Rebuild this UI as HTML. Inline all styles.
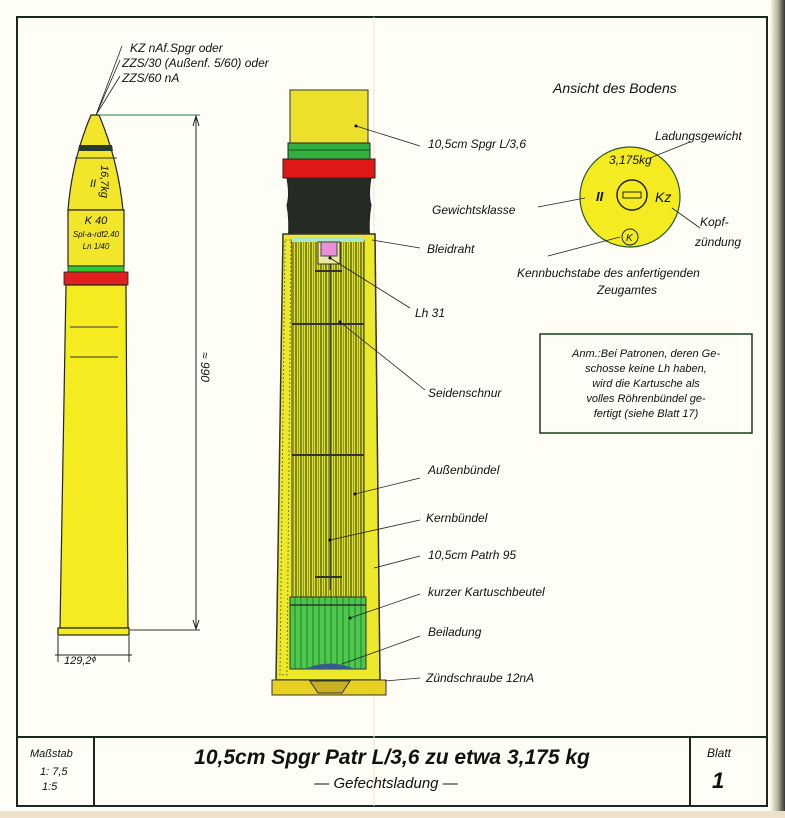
<!DOCTYPE html>
<html><head><meta charset="utf-8"><style>
body{margin:0;background:#fff;}
svg{display:block;}
text{font-family:"Liberation Sans",sans-serif;font-style:italic;fill:#111;}
</style></head><body>
<svg width="785" height="818" viewBox="0 0 785 818" xmlns="http://www.w3.org/2000/svg">
<defs>
<linearGradient id="edge" x1="0" x2="1"><stop offset="0" stop-color="#fdfde8"/><stop offset="0.5" stop-color="#b8b8a0"/><stop offset="1" stop-color="#333"/></linearGradient>
<pattern id="str" width="5" height="10" patternUnits="userSpaceOnUse"><rect width="5" height="10" fill="#e0e028"/><line x1="1" y1="0" x2="1" y2="10" stroke="#4a5a10" stroke-width="1.3"/><line x1="3.5" y1="0" x2="3.5" y2="10" stroke="#7a8a20" stroke-width="0.8"/></pattern>
<pattern id="gstr" width="6" height="10" patternUnits="userSpaceOnUse"><rect width="6" height="10" fill="#4cc84c"/><line x1="1" y1="0" x2="1" y2="10" stroke="#2a7a2a" stroke-width="1"/></pattern>
</defs>
<rect width="785" height="818" fill="#fefef6"/>
<rect x="770" y="0" width="15" height="818" fill="url(#edge)"/>
<rect x="0" y="811" width="785" height="7" fill="#efe2cc"/>
<!-- frame -->
<rect x="17" y="17" width="750" height="789" fill="none" stroke="#1a2a1a" stroke-width="2"/>
<line x1="17" y1="737" x2="767" y2="737" stroke="#1a2a1a" stroke-width="2"/>
<line x1="94" y1="737" x2="94" y2="806" stroke="#1a2a1a" stroke-width="2"/>
<line x1="690" y1="737" x2="690" y2="806" stroke="#1a2a1a" stroke-width="2"/>
<line x1="374" y1="17" x2="374" y2="806" stroke="#ece6d2" stroke-width="1"/>
<text x="30" y="757" font-size="11">Maßstab</text>
<text x="40" y="775" font-size="11">1: 7,5</text>
<text x="42" y="790" font-size="11">1:5</text>
<text x="392" y="764" font-size="21" font-weight="bold" text-anchor="middle">10,5cm Spgr Patr L/3,6 zu etwa 3,175 kg</text>
<text x="386" y="788" font-size="15" text-anchor="middle">— Gefechtsladung —</text>
<text x="707" y="757" font-size="12">Blatt</text>
<text x="712" y="788" font-size="22" font-weight="bold">1</text>

<!-- left external view -->
<path d="M91,115 L99,115 Q118,160 123,210 L68,210 Q72,160 91,115 Z" fill="#f2e62a" stroke="#222" stroke-width="1.2"/>
<path d="M79,145 L112,145 L113,151 L78,151 Z" fill="#2a3a2a"/>
<line x1="75" y1="158" x2="117" y2="158" stroke="#333"/>
<rect x="68" y="210" width="56" height="56" fill="#f2e62a" stroke="#222" stroke-width="1.2"/>
<rect x="68" y="266" width="56" height="6" fill="#2ec82e" stroke="#222" stroke-width="0.8"/>
<rect x="64" y="272" width="64" height="13" fill="#e02020" stroke="#222" stroke-width="0.8"/>
<path d="M66,285 L126,285 L128,628 L60,628 Z" fill="#f4ec20" stroke="#222" stroke-width="1.2"/>
<rect x="58" y="628" width="71" height="7" fill="#f4ec20" stroke="#222" stroke-width="1.2"/>
<line x1="70" y1="327" x2="118" y2="327" stroke="#333"/>
<line x1="70" y1="357" x2="118" y2="357" stroke="#333"/>
<text x="90" y="187" font-size="11" font-style="normal" font-family="Liberation Serif">II</text>
<text transform="translate(101,165) rotate(90)" font-size="11">16,7kg</text>
<text x="96" y="224" font-size="11" text-anchor="middle">K 40</text>
<text x="96" y="237" font-size="8" text-anchor="middle">Spl-a-rdf2.40</text>
<text x="96" y="249" font-size="8" text-anchor="middle">Ln 1/40</text>
<!-- dims -->
<line x1="99" y1="115" x2="200" y2="115" stroke="#2a7a4a"/>
<line x1="130" y1="630" x2="200" y2="630" stroke="#2a3a2a"/>
<line x1="196" y1="118" x2="196" y2="627" stroke="#222"/>
<path d="M193,126 L196,116 L199,126 M193,620 L196,629 L199,620" fill="none" stroke="#222"/>
<text transform="translate(201,352) rotate(90)" font-size="12">≈ 990</text>
<line x1="58" y1="636" x2="58" y2="662" stroke="#222"/>
<line x1="129" y1="636" x2="129" y2="662" stroke="#222"/>
<line x1="55" y1="655" x2="132" y2="655" stroke="#222"/>
<text x="64" y="664" font-size="11">129,2ᶲ</text>
<!-- top-left labels -->
<path d="M96,115 L122,46 M96,115 L120,60 M96,115 L120,76" stroke="#222" fill="none" stroke-width="0.8"/>
<text x="130" y="52" font-size="12">KZ nAf.Spgr oder</text>
<text x="122" y="67" font-size="12">ZZS/30 (Außenf. 5/60) oder</text>
<text x="122" y="82" font-size="12">ZZS/60 nA</text>

<!-- center cartridge -->
<rect x="290" y="90" width="78" height="53" fill="#ece02a" stroke="#333"/>
<rect x="288" y="143" width="82" height="16" fill="#30b040" stroke="#222"/>
<line x1="288" y1="150" x2="370" y2="150" stroke="#1a5a1a"/>
<rect x="283" y="159" width="92" height="19" fill="#e01818" stroke="#222"/>
<path d="M287,178 L371,178 Q368,195 371,205 Q368,222 370,240 L288,240 Q290,222 287,205 Q290,195 287,178 Z" fill="#262a24" stroke="#222"/>
<path d="M283,234 L375,234 L380,680 L276,680 Z" fill="#ece82a" stroke="#333" stroke-width="1.5"/>
<path d="M285,240 L291,240 L287,675 L280,675 Z" fill="none" stroke="#8a7a20" stroke-width="1" stroke-dasharray="2,2"/>
<rect x="292" y="240" width="72" height="358" fill="url(#str)" stroke="#333"/>
<rect x="292" y="237" width="72" height="5" fill="#a8e8c8"/>
<rect x="318" y="242" width="22" height="22" fill="#ececa0" stroke="#333"/>
<rect x="321" y="242" width="16" height="14" fill="#e890d8" stroke="#444"/>
<line x1="330" y1="264" x2="330" y2="590" stroke="#333"/>
<line x1="292" y1="324" x2="364" y2="324" stroke="#333" stroke-width="2"/>
<line x1="292" y1="455" x2="364" y2="455" stroke="#333" stroke-width="2"/>
<line x1="315" y1="271" x2="342" y2="271" stroke="#333" stroke-width="2"/>
<line x1="315" y1="577" x2="342" y2="577" stroke="#333" stroke-width="2"/>
<rect x="290" y="597" width="76" height="72" fill="url(#gstr)" stroke="#333"/>
<line x1="290" y1="605" x2="366" y2="605" stroke="#333" stroke-width="1.5"/>
<path d="M305,669 Q330,658 355,669 Z" fill="#3a5a8a"/>
<path d="M272,680 L386,680 L386,695 L272,695 Z" fill="#e8d020" stroke="#333"/>
<path d="M310,681 L350,681 L342,693 L318,693 Z" fill="#c8b020" stroke="#333"/>
<!-- leaders -->
<g stroke="#222" stroke-width="0.8" fill="none">
<path d="M356,126 L420,146"/><path d="M372,240 L420,248"/><path d="M330,258 L410,308"/><path d="M340,322 L425,390"/>
<path d="M355,494 L420,478"/><path d="M330,540 L420,520"/><path d="M374,568 L420,556"/><path d="M350,618 L420,594"/>
<path d="M342,664 L420,636"/><path d="M385,681 L420,678"/>
</g>
<circle cx="356" cy="126" r="1.5"/><circle cx="330" cy="258" r="1.5"/><circle cx="340" cy="322" r="1.5"/><circle cx="355" cy="494" r="1.5"/><circle cx="330" cy="540" r="1.5"/><circle cx="350" cy="618" r="1.5"/>
<g font-size="12">
<text x="428" y="148">10,5cm Spgr L/3,6</text>
<text x="432" y="214">Gewichtsklasse</text>
<text x="427" y="253">Bleidraht</text>
<text x="415" y="317">Lh 31</text>
<text x="428" y="397">Seidenschnur</text>
<text x="428" y="474">Außenbündel</text>
<text x="426" y="522">Kernbündel</text>
<text x="428" y="559">10,5cm Patrh 95</text>
<text x="428" y="596">kurzer Kartuschbeutel</text>
<text x="428" y="636">Beiladung</text>
<text x="426" y="682">Zündschraube 12nA</text>
</g>

<!-- base view -->
<text x="553" y="93" font-size="14">Ansicht des Bodens</text>
<circle cx="630" cy="197" r="50" fill="#f4ec20" stroke="#2a5a2a" stroke-width="1.2"/>
<circle cx="632" cy="195" r="15" fill="#f4ec20" stroke="#222" stroke-width="1.5"/>
<rect x="623" y="192" width="18" height="6" fill="#f4ec20" stroke="#222"/>
<text x="596" y="201" font-size="13" font-style="normal" font-family="Liberation Serif" font-weight="bold">II</text>
<text x="655" y="202" font-size="14">Kz</text>
<text x="609" y="164" font-size="12">3,175kg</text>
<circle cx="630" cy="237" r="8" fill="none" stroke="#222"/>
<text x="626" y="241" font-size="10">K</text>
<g stroke="#222" stroke-width="0.8"><path d="M650,158 L690,142"/><path d="M538,207 L585,198"/><path d="M672,208 L700,228"/><path d="M548,256 L620,237"/></g>
<g font-size="12">
<text x="655" y="140">Ladungsgewicht</text>
<text x="700" y="226">Kopf-</text>
<text x="695" y="246">zündung</text>
<text x="517" y="277">Kennbuchstabe des anfertigenden</text>
<text x="597" y="294">Zeugamtes</text>
</g>
<rect x="540" y="334" width="212" height="99" fill="none" stroke="#1a3a1a" stroke-width="1.5"/>
<g font-size="11" text-anchor="middle">
<text x="646" y="357">Anm.:Bei Patronen, deren Ge-</text>
<text x="646" y="372">schosse keine Lh haben,</text>
<text x="646" y="387">wird die Kartusche als</text>
<text x="646" y="402">volles Röhrenbündel ge-</text>
<text x="646" y="417">fertigt (siehe Blatt 17)</text>
</g>
</svg>
</body></html>
